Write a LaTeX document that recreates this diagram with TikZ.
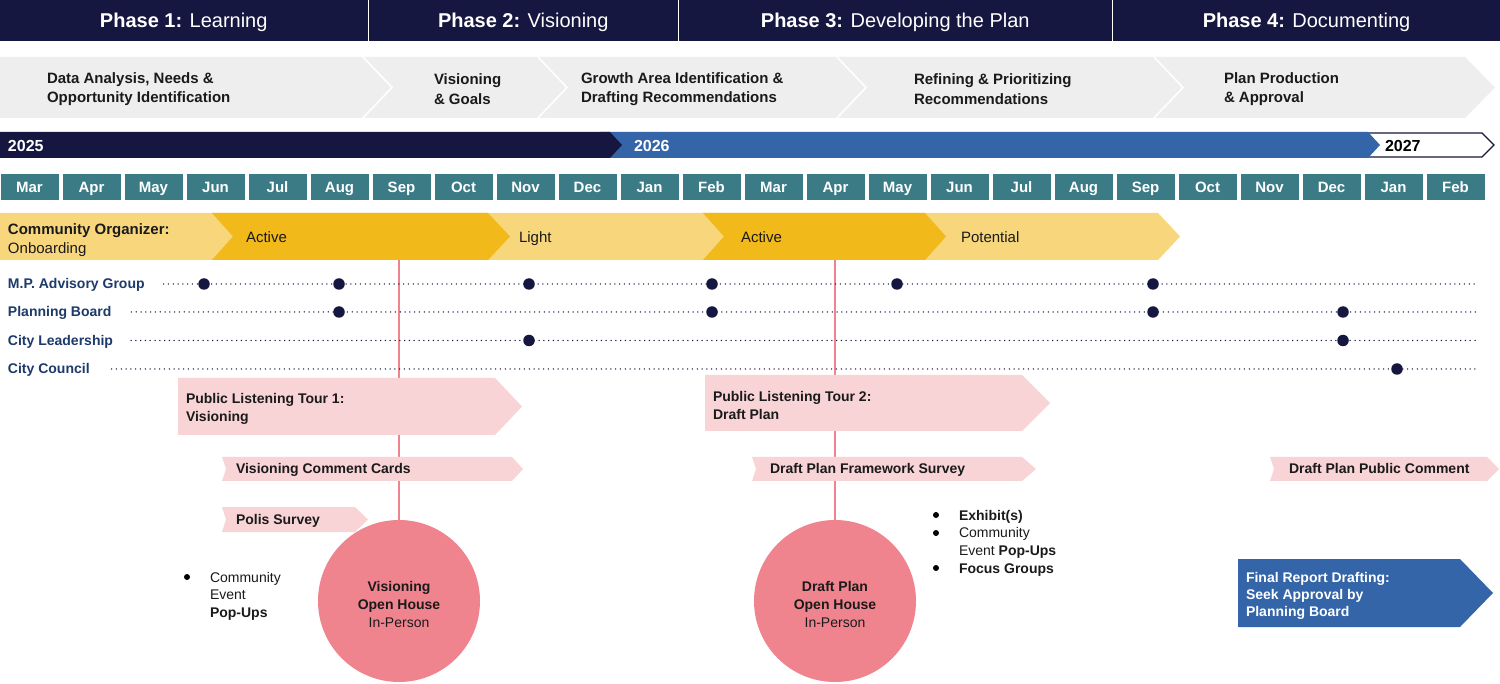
\documentclass[tikz,border=0pt]{standalone}
\usepackage{fontspec}
\setmainfont{Liberation Sans}
\newfontfamily\cond{Liberation Sans}
\definecolor{navy}{RGB}{22,23,64}
\definecolor{blueyr}{RGB}{52,101,168}
\definecolor{lgrey}{RGB}{238,238,238}
\definecolor{teal}{RGB}{58,123,134}
\definecolor{ylight}{RGB}{247,214,124}
\definecolor{ydark}{RGB}{242,185,27}
\definecolor{lblue}{RGB}{29,58,106}
\definecolor{pinkbox}{RGB}{249,212,215}
\definecolor{pinkcirc}{RGB}{240,132,142}
\definecolor{txt}{RGB}{26,26,26}
\tikzset{
  phasebox/.style={fill=navy, text=white, minimum height=41, anchor=north west, text height=14.3, text depth=0, font=\cond\fontsize{20}{24}\selectfont},
  chevtext/.style={anchor=west, align=left, text=txt, font=\cond\bfseries\fontsize{15}{19.5}\selectfont},
  yeartext/.style={anchor=west, text height=11.5, text depth=0, font=\cond\bfseries\fontsize{16}{18}\selectfont},
  monthbox/.style={fill=teal, text=white, minimum width=58, minimum height=26, text height=10.7, text depth=0, font=\cond\bfseries\fontsize{15}{18}\selectfont},
  orgtext/.style={anchor=west, align=left, text=txt, text height=10.7, text depth=0, font=\cond\fontsize{15}{19}\selectfont},
  rowlabel/.style={anchor=west, text=lblue, text height=10, text depth=0, font=\cond\bfseries\fontsize{14}{17}\selectfont},
  dotline/.style={draw=navy, line width=1.5, dash pattern=on 0pt off 4.8pt, line cap=round},
  meetdot/.style={circle, fill=navy, minimum size=11.5},
  pinkline/.style={draw=pinkcirc, line width=2},
  tourtext/.style={anchor=west, align=left, text=txt, font=\cond\bfseries\fontsize{14}{18}\selectfont},
  ribtext/.style={anchor=west, text=txt, text height=10, text depth=0, font=\bfseries\fontsize{14}{17}\selectfont},
  ohouse/.style={circle, fill=pinkcirc, minimum size=162, align=center, text=txt, font=\fontsize{14}{18}\selectfont},
  bultext/.style={anchor=north west, align=left, text=txt, font=\fontsize{14}{17.7}\selectfont},
  bul/.style={circle, fill=black, minimum size=6},
  finaltext/.style={anchor=west, align=left, text=white, font=\bfseries\fontsize{14}{17}\selectfont},
  every node/.append style={inner sep=0pt, outer sep=0pt}
}
\begin{document}
\begin{tikzpicture}[x=1pt,y=-1pt]
\useasboundingbox[fill=white] (0,0) rectangle (1500,684);

% ---------- phase header ----------
\node[phasebox, minimum width=367.5] (ph1) at (0,0) {\textbf{Phase 1:} Learning};
\node[phasebox, minimum width=308.5] (ph2) at (369,0) {\textbf{Phase 2:} Visioning};
\node[phasebox, minimum width=432.5] (ph3) at (679,0) {\textbf{Phase 3:} Developing the Plan};
\node[phasebox, minimum width=387] (ph4) at (1113,0) {\textbf{Phase 4:} Documenting};

% ---------- task chevrons ----------
\fill[lgrey] (0,57) -- (1465,57) -- (1495,87.5) -- (1465,118) -- (0,118) -- cycle;
\foreach \sx in {362,537,836,1153}
  \draw[white, line width=1.6] (\sx,56) -- (\sx+30,87.5) -- (\sx,119);
\node[chevtext] (t1) at (47,89) {Data Analysis, Needs \&\\Opportunity Identification};
\node[chevtext] (t2) at (434,89) {Visioning\\\& Goals};
\node[chevtext] (t3) at (581,89) {Growth Area Identification \&\\Drafting Recommendations};
\node[chevtext] (t4) at (914,89) {Refining \& Prioritizing\\Recommendations};
\node[chevtext] (t5) at (1224,89) {Plan Production\\\& Approval};

% ---------- years ----------
\filldraw[fill=white, draw=navy, line width=1.2] (1366,133) -- (1482,133) -- (1494,145) -- (1482,157) -- (1366,157) -- cycle;
\fill[blueyr] (600,132) -- (1368,132) -- (1380,145) -- (1368,158) -- (600,158) -- cycle;
\fill[navy] (0,132) -- (610,132) -- (622,145) -- (610,158) -- (0,158) -- cycle;
\node[yeartext, text=white] (y25) at (8,145.5) {2025};
\node[yeartext, text=white] (y26) at (634,145.5) {2026};
\node[yeartext, text=black] (y27) at (1385,145.5) {2027};

% ---------- months ----------
\foreach \m [count=\i from 0] in {Mar,Apr,May,Jun,Jul,Aug,Sep,Oct,Nov,Dec,Jan,Feb,Mar,Apr,May,Jun,Jul,Aug,Sep,Oct,Nov,Dec,Jan,Feb}
  \node[monthbox] (m\i) at (62*\i+29.5,187) {\m};

% ---------- community organizer ----------
\fill[ylight] (0,213) -- (1158,213) -- (1180,236.5) -- (1158,260) -- (0,260) -- cycle;
\fill[ydark] (212,213) -- (488,213) -- (510,236.5) -- (488,260) -- (212,260) -- (233,236.5) -- cycle;
\fill[ydark] (703,213) -- (925,213) -- (946,236.5) -- (925,260) -- (703,260) -- (724,236.5) -- cycle;
\node[orgtext, text height=, text depth=] (co) at (8,240) {\textbf{Community Organizer:}\\Onboarding};
\node[orgtext] (a1) at (246,237) {Active};
\node[orgtext] (l1) at (519,237) {Light};
\node[orgtext] (a2) at (741,237) {Active};
\node[orgtext] (p1) at (961,237) {Potential};

% ---------- open houses and pink lines ----------
\node[ohouse] (oh1) at (399,601) {};
\node[ohouse] (oh2) at (835,601) {};
\node[ohouse, fill=none, minimum size=0] (oh1t) at (399,604) {\textbf{Visioning}\\\textbf{Open House}\\In-Person};
\node[ohouse, fill=none, minimum size=0] (oh2t) at (835,604) {\textbf{Draft Plan}\\\textbf{Open House}\\In-Person};
\coordinate (pl1) at (399,260);
\coordinate (pl2) at (835,260);
\draw[pinkline] (pl1) -- (oh1.north);
\draw[pinkline] (pl2) -- (oh2.north);

% ---------- stakeholder rows ----------
\node[rowlabel] (r1) at (8,284) {M.P. Advisory Group};
\node[rowlabel] (r2) at (8,312) {Planning Board};
\node[rowlabel] (r3) at (8,340.5) {City Leadership};
\node[rowlabel] (r4) at (8,369) {City Council};
\coordinate (e1) at (1476,284);
\coordinate (e2) at (1476,312);
\coordinate (e3) at (1476,340.5);
\coordinate (e4) at (1476,369);
\draw[dotline] ([xshift=19]r1.east) -- (e1);
\draw[dotline] ([xshift=20]r2.east) -- (e2);
\draw[dotline] ([xshift=18]r3.east) -- (e3);
\draw[dotline] ([xshift=22]r4.east) -- (e4);
\foreach \x [count=\k] in {204,339,529,712,897,1153} \node[meetdot] (d1\k) at (\x,284) {};
\foreach \x [count=\k] in {339,712,1153,1343} \node[meetdot] (d2\k) at (\x,312) {};
\foreach \x [count=\k] in {529,1343} \node[meetdot] (d3\k) at (\x,340.5) {};
\node[meetdot] (d41) at (1397,369) {};

% ---------- public listening tours ----------
\fill[pinkbox] (178,378) -- (495,378) -- (522,406.5) -- (495,435) -- (178,435) -- cycle;
\node[tourtext] (tour1) at (186,408.5) {Public Listening Tour 1:\\Visioning};
\fill[pinkbox] (705,375) -- (1022,375) -- (1050,403) -- (1022,431) -- (705,431) -- cycle;
\node[tourtext] (tour2) at (713,405) {Public Listening Tour 2:\\Draft Plan};

% ---------- ribbons ----------
\fill[pinkbox] (222,457) -- (512,457) -- (523,469) -- (512,481) -- (222,481) -- (226,469) -- cycle;
\node[ribtext] (vcc) at (236,469) {Visioning Comment Cards};
\fill[pinkbox] (222,507) -- (355,507) -- (368,519.5) -- (355,532) -- (222,532) -- (226,519.5) -- cycle;
\node[ribtext] (polis) at (236,519.5) {Polis Survey};
\fill[pinkbox] (752,457) -- (1022,457) -- (1036,469) -- (1022,481) -- (752,481) -- (756,469) -- cycle;
\node[ribtext] (dpfs) at (770,469) {Draft Plan Framework Survey};
\fill[pinkbox] (1270,457) -- (1487,457) -- (1499,469) -- (1487,481) -- (1270,481) -- (1274,469) -- cycle;
\node[ribtext] (dppc) at (1289,469) {Draft Plan Public Comment};

% ---------- bullet lists ----------
\node[bultext] (bl1) at (210,572) {Community\\Event\\\textbf{Pop-Ups}};
\node[bul] (b11) at (187,577) {};
\node[bultext] (bl2) at (959,510) {\textbf{Exhibit(s)}\\Community\\Event \textbf{Pop-Ups}\\\textbf{Focus Groups}};
\node[bul] (b21) at (936,515) {};
\node[bul] (b22) at (936,533) {};
\node[bul] (b23) at (936,568) {};

% ---------- final report ----------
\fill[blueyr] (1238,559) -- (1460,559) -- (1493,593) -- (1460,627) -- (1238,627) -- cycle;
\node[finaltext] (fr) at (1246,596) {Final Report Drafting:\\Seek Approval by\\Planning Board};
\end{tikzpicture}
\end{document}
